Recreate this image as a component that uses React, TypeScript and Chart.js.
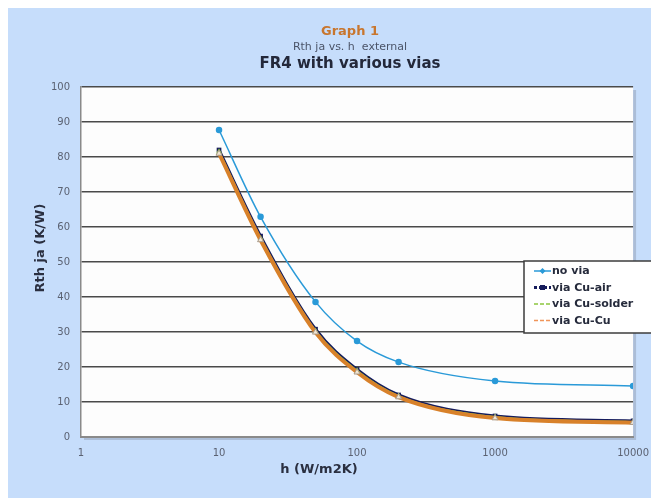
import React, { useEffect, useRef } from "react";
import { Chart, registerables } from "chart.js";

Chart.register(...registerables);

const hValues = [10, 20, 50, 100, 200, 1000, 10000];
const noVia = [87.7, 62.9, 38.6, 27.4, 21.4, 16.0, 14.6];
const viaCuAir = [82.0, 57.4, 30.8, 19.3, 12.0, 6.0, 4.6];
const viaCuSolder = [81.5, 56.8, 30.3, 18.9, 11.7, 5.7, 4.3];
const viaCuCu = [81.0, 56.3, 29.9, 18.5, 11.4, 5.4, 4.1];
const xTicks = [1, 10, 100, 1000, 10000];
const titleLines = ["Graph 1", "Rth ja vs. h  external", "FR4 with various vias"];
const xTitle = "h (W/m2K)";
const yTitle = "Rth ja (K/W)";

const FONT = "'DejaVu Sans', Verdana, sans-serif";

const toPts = (ys: number[]) => hValues.map((x, i) => ({ x, y: ys[i] }));

const legendSamples = [
  { color: "#2a9ad8", width: 1.5, dash: [] as number[], marker: "diamond" },
  { color: "#161c5c", width: 3, dash: [3, 2], marker: "rect" },
  { color: "#8cc63f", width: 1.5, dash: [4, 2], marker: "none" },
  { color: "#f0955a", width: 1.5, dash: [4, 2], marker: "none" },
];

const decorPlugin = {
  id: "decor",
  beforeDraw(chart: any) {
    const { ctx, chartArea: a } = chart;
    ctx.save();
    ctx.fillStyle = "rgba(120,130,150,0.35)";
    ctx.fillRect(a.left + 3, a.top + 3, a.right - a.left, a.bottom - a.top);
    ctx.fillStyle = "#fdfdfd";
    ctx.fillRect(a.left, a.top, a.right - a.left, a.bottom - a.top);
    ctx.restore();
  },
  afterDraw(chart: any) {
    const { ctx } = chart;
    ctx.save();
    ctx.textAlign = "center";
    ctx.textBaseline = "middle";
    // titles
    ctx.fillStyle = "#c8762e";
    ctx.font = `bold 13px ${FONT}`;
    ctx.fillText(titleLines[0], 342, 24);
    ctx.fillStyle = "#4b5468";
    ctx.font = `11px ${FONT}`;
    ctx.fillText(titleLines[1], 342, 39);
    ctx.fillStyle = "#23283a";
    ctx.font = `bold 15px ${FONT}`;
    ctx.fillText(titleLines[2], 342, 56);
    // axis titles
    ctx.fillStyle = "#2a2f40";
    ctx.font = `bold 13px ${FONT}`;
    ctx.fillText(xTitle, 311, 462);
    ctx.save();
    ctx.translate(33, 240);
    ctx.rotate(-Math.PI / 2);
    ctx.fillText(yTitle, 0, 0);
    ctx.restore();
    // legend
    const lx = 516, ly = 253, lw = 128, lh = 72;
    ctx.fillStyle = "#ffffff";
    ctx.fillRect(lx, ly, lw, lh);
    ctx.strokeStyle = "#3c3c3c";
    ctx.lineWidth = 1.5;
    ctx.strokeRect(lx, ly, lw, lh);
    ctx.textAlign = "left";
    ctx.font = `bold 11px ${FONT}`;
    chart.data.datasets.forEach((ds: any, i: number) => {
      const y = ly + 10 + i * 16.5;
      const s = legendSamples[i];
      ctx.strokeStyle = s.color;
      ctx.lineWidth = s.width;
      ctx.setLineDash(s.dash);
      ctx.beginPath();
      ctx.moveTo(lx + 10, y);
      ctx.lineTo(lx + 27, y);
      ctx.stroke();
      ctx.setLineDash([]);
      ctx.fillStyle = s.color;
      if (s.marker === "diamond") {
        ctx.beginPath();
        ctx.moveTo(lx + 18.5, y - 3);
        ctx.lineTo(lx + 21.5, y);
        ctx.lineTo(lx + 18.5, y + 3);
        ctx.lineTo(lx + 15.5, y);
        ctx.closePath();
        ctx.fill();
      } else if (s.marker === "rect") {
        ctx.fillRect(lx + 16, y - 2.5, 5, 5);
      }
      ctx.fillStyle = "#262b3c";
      ctx.fillText(ds.label, lx + 28, y + 0.5);
    });
    ctx.restore();
  },
};

export default function App() {
  const ref = useRef<HTMLCanvasElement | null>(null);
  useEffect(() => {
    document.body.style.overflow = "hidden";
    const c = ref.current!;
    const chart = new Chart(c, {
      type: "line",
      data: {
        datasets: [
          {
            label: "no via",
            data: toPts(noVia),
            borderColor: "#2a9ad8",
            backgroundColor: "#2a9ad8",
            borderWidth: 1.5,
            pointStyle: "circle",
            pointRadius: 2.5,
            cubicInterpolationMode: "monotone",
            order: 0,
          },
          {
            label: "via Cu-air",
            data: toPts(viaCuAir),
            borderColor: "#161c5c",
            backgroundColor: "#161c5c",
            borderWidth: 3,
            pointStyle: "rect",
            pointRadius: 1.2,
            cubicInterpolationMode: "monotone",
            order: 3,
          },
          {
            label: "via Cu-solder",
            data: toPts(viaCuSolder),
            borderColor: "#8cc63f",
            backgroundColor: "#8cc63f",
            borderWidth: 2,
            pointStyle: "triangle",
            pointRadius: 1.5,
            cubicInterpolationMode: "monotone",
            order: 2,
          },
          {
            label: "via Cu-Cu",
            data: toPts(viaCuCu),
            borderColor: "#d8812a",
            backgroundColor: "#f2e6d2",
            borderWidth: 4,
            pointStyle: "triangle",
            pointRadius: 3.5,
            pointBorderColor: "#a89a8a",
            pointBorderWidth: 1,
            cubicInterpolationMode: "monotone",
            order: 1,
          },
        ],
      },
      options: {
        animation: false,
        responsive: false,
        maintainAspectRatio: false,
        layout: { padding: { left: 0, top: 79, right: 22, bottom: 21 } },
        plugins: {
          legend: { display: false },
          title: { display: false },
          tooltip: { enabled: false },
        },
        scales: {
          x: {
            type: "logarithmic",
            min: 1,
            max: 10000,
            afterBuildTicks: (scale: any) => {
              scale.ticks = xTicks.map((v) => ({ value: v }));
            },
            afterFit: (scale: any) => {
              scale.height = 40;
            },
            ticks: {
              autoSkip: false,
              maxRotation: 0,
              padding: 10,
              color: "#5b6272",
              font: { family: FONT, size: 10 },
              callback: (v: any) => String(v),
            },
            grid: { display: false, drawTicks: false },
            border: { display: true, color: "#8a8a8a", width: 2 },
          },
          y: {
            min: 0,
            max: 100,
            afterFit: (scale: any) => {
              scale.width = 73;
            },
            ticks: {
              stepSize: 10,
              padding: 11,
              color: "#5b6272",
              font: { family: FONT, size: 10 },
            },
            grid: {
              color: (c: any) => (c.tick && c.tick.value === 0 ? "rgba(0,0,0,0)" : "#4a4a4a"),
              lineWidth: 1.5,
              drawTicks: false,
            },
            border: { display: true, color: "#8a8a8a", width: 1.5 },
          },
        },
      },
      plugins: [decorPlugin],
    } as any);
    return () => chart.destroy();
  }, []);
  return (
    <div style={{ width: 651, height: 490, background: "#c6ddfb" }}>
      <canvas ref={ref} width={651} height={490} style={{ display: "block" }} />
    </div>
  );
}
